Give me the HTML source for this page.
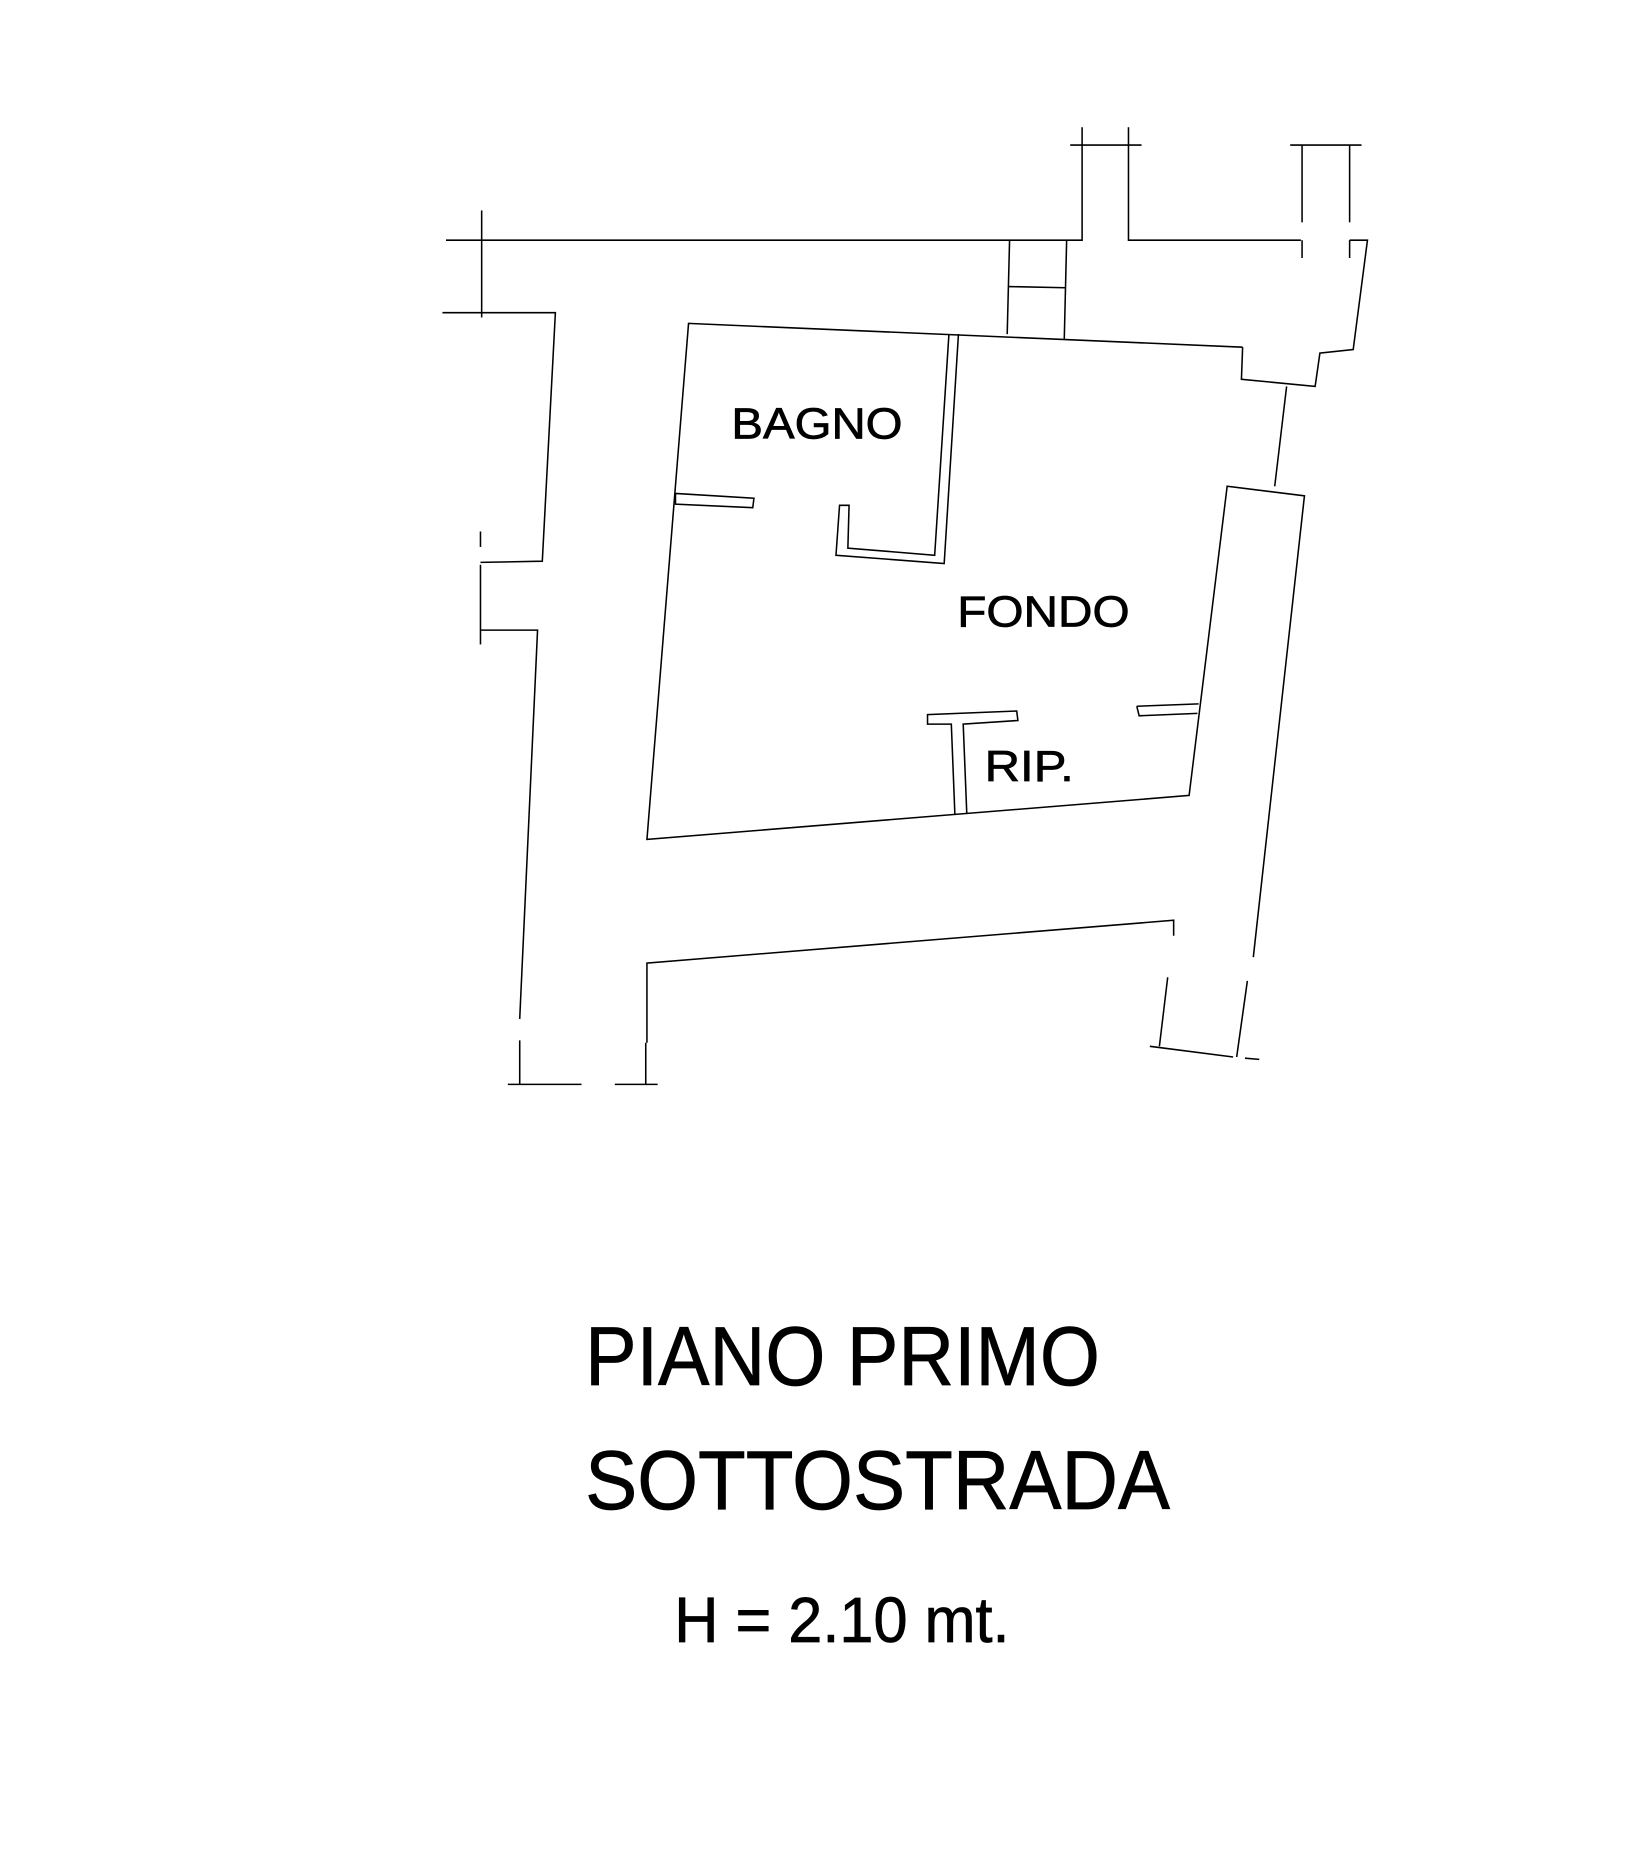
<!DOCTYPE html>
<html><head><meta charset="utf-8"><style>
html,body{margin:0;padding:0;background:#fff;}
svg{display:block;}
text{font-family:"Liberation Sans",Arial,sans-serif;fill:#000;stroke:#000;stroke-width:0.6;}
</style></head><body>
<svg width="1647" height="1856" viewBox="0 0 1385 1561" xmlns="http://www.w3.org/2000/svg">
<g transform="translate(-3,-3)">
<g fill="none" stroke="#000" stroke-width="1.3">
<polyline points="378,205 913,205 913,125"/>
<polyline points="952,125 952,205 1097,205"/>
<line x1="903" y1="125" x2="963" y2="125"/>
<line x1="913" y1="110" x2="913" y2="125"/>
<line x1="952" y1="110" x2="952" y2="125"/>
<line x1="1088" y1="125" x2="1148" y2="125"/>
<line x1="1098" y1="125" x2="1098" y2="190"/>
<line x1="1138" y1="125" x2="1138" y2="190"/>
<line x1="1098" y1="205" x2="1098" y2="220"/>
<line x1="1138" y1="205" x2="1138" y2="220"/>
<polyline points="1138,205 1153,205 1141,297 1113,300 1109,328 1047,322 1048,295"/>
<line x1="1085" y1="328" x2="1075" y2="412"/>
<line x1="852" y1="205" x2="850" y2="284"/>
<line x1="900" y1="205" x2="898" y2="288"/>
<line x1="851" y1="244" x2="899" y2="245"/>
<line x1="408" y1="180" x2="408" y2="270"/>
<polyline points="375,266 470,266 459,475 407,476"/>
<line x1="407" y1="450" x2="407" y2="463"/>
<line x1="407" y1="478" x2="407" y2="545"/>
<polyline points="407,533 455,533 440,860"/>
<line x1="440" y1="878" x2="440" y2="915"/>
<line x1="430" y1="915" x2="492" y2="915"/>
<line x1="520" y1="915" x2="556" y2="915"/>
<line x1="546" y1="880" x2="546" y2="915"/>
<polyline points="1048,295 582,275 547,709 1003,672 1035,412 1100,420 1057,808"/>
<line x1="1052" y1="828" x2="1043" y2="892"/>
<line x1="1050" y1="893" x2="1062" y2="894"/>
<polyline points="801,284 789,470 716,464 717,428 709,428 706,470 797,477 809,284"/>
<polygon points="571,418 637,422 636,430 571,427"/>
<polyline points="806,688 803,612 783,612 783,604 858,601 859,609 813,612 816,687"/>
<line x1="959" y1="597" x2="1011" y2="595"/>
<polyline points="959,597 961,605 1010,603"/>
<polyline points="547,880 547,813 990,777 990,790"/>
<line x1="985" y1="825" x2="978" y2="883"/>
<line x1="970" y1="883" x2="1040" y2="892"/>
</g>
<text x="618" y="372" font-size="37" textLength="144" lengthAdjust="spacingAndGlyphs">BAGNO</text>
<text x="808" y="530" font-size="37" textLength="145" lengthAdjust="spacingAndGlyphs">FONDO</text>
<text x="831" y="660" font-size="37" textLength="75" lengthAdjust="spacingAndGlyphs">RIP.</text>
<text x="495" y="1168" font-size="70" textLength="433" lengthAdjust="spacingAndGlyphs">PIANO PRIMO</text>
<text x="495" y="1272" font-size="70" textLength="492" lengthAdjust="spacingAndGlyphs">SOTTOSTRADA</text>
<text x="570" y="1384" font-size="54" textLength="282" lengthAdjust="spacingAndGlyphs">H = 2.10 mt.</text>
</g>
</svg>
</body></html>
